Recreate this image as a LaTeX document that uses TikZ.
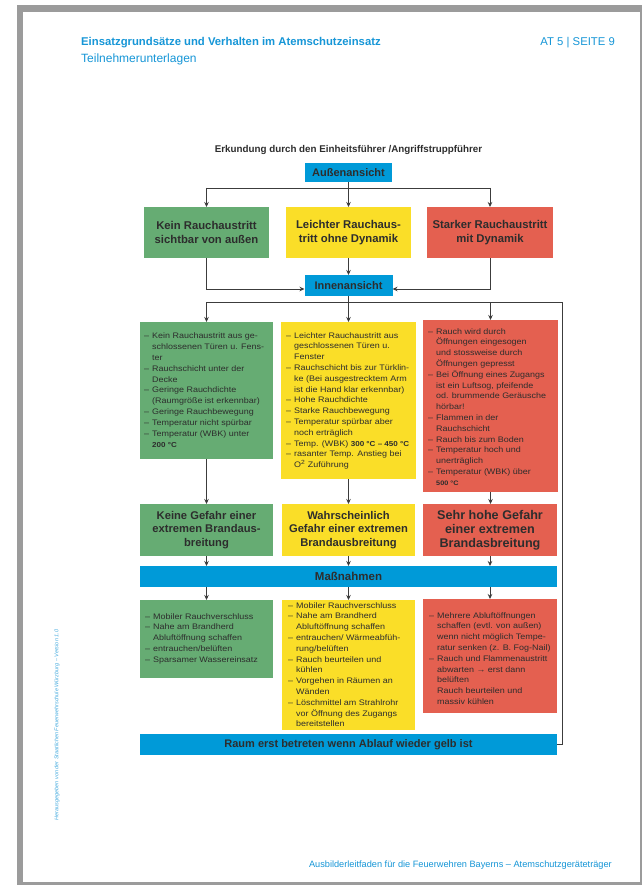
\documentclass[tikz,border=0pt]{standalone}
\usepackage{fontspec}
\setmainfont{Liberation Sans}
\newfontfamily\lstfont[FakeStretch=1.12]{Liberation Sans}
\usetikzlibrary{arrows.meta,calc}
\definecolor{hblue}{RGB}{22,150,215}
\definecolor{bbar}{RGB}{0,154,216}
\definecolor{bgreen}{RGB}{102,172,115}
\definecolor{byellow}{RGB}{250,222,40}
\definecolor{bred}{RGB}{228,96,80}
\definecolor{ink}{RGB}{45,45,45}
\definecolor{lnk}{RGB}{60,60,60}
\definecolor{framegray}{RGB}{155,155,155}
\newcommand\Di{\makebox[8pt][l]{–}}
\newcommand\In{\hspace*{8pt}}
\newcommand\Tb[1]{{\bfseries\fontsize{7.2}{10.8}\selectfont #1}}
\begin{document}
\begin{tikzpicture}[x=1pt,y=-1pt,
  bx/.style={draw=none,inner sep=0pt,outer sep=0pt,text=ink,align=center,
    font=\bfseries\fontsize{11.3}{14}\selectfont},
  bar/.style={bx,fill=bbar,font=\bfseries\fontsize{11}{13}\selectfont},
  gbox/.style={bx,fill=bgreen},
  ybox/.style={bx,fill=byellow},
  rbox/.style={bx,fill=bred},
  lst/.style={inner sep=0pt,anchor=north west,align=left,text=ink,
    font=\lstfont\fontsize{8}{10.8}\selectfont},
  hdr/.style={inner sep=0pt,text=hblue},
  conn/.style={draw=lnk,line width=0.8pt},
  arr/.style={conn,-{Stealth[length=5pt,width=4.5pt]}}
]
\useasboundingbox (0,0) rectangle (642,885);
% page frame
\fill[framegray] (17,5) rectangle (642,885);
\fill[white] (23,12) rectangle (640,882);

% header
\node[hdr,anchor=base west,font=\bfseries\fontsize{11.3}{13}\selectfont] (h1) at (81,46) {Einsatzgrundsätze und Verhalten im Atemschutzeinsatz};
\node[hdr,anchor=base west,font=\fontsize{12}{14}\selectfont] (h2) at (81,63) {Teilnehmerunterlagen};
\node[hdr,anchor=base east,font=\fontsize{11.3}{13}\selectfont] (h3) at (615,46) {AT 5 | SEITE 9};

% title
\node[inner sep=0pt,text=ink,font=\bfseries\fontsize{9.8}{12}\selectfont] (title) at (348.5,150) {Erkundung durch den Einheitsführer /Angriffstruppführer};

% row 1
\node[bar,minimum width=87pt,minimum height=19pt] (aus) at (348.5,172.5) {Außenansicht};
\node[gbox,minimum width=125pt,minimum height=51pt] (g1) at (206.5,232.5) {Kein Rauchaustritt\\sichtbar von außen};
\node[ybox,minimum width=125pt,minimum height=51pt] (y1) at (348.5,232.5) {Leichter Rauchaus-\\tritt ohne Dynamik};
\node[rbox,minimum width=126pt,minimum height=51pt] (r1) at (490,232.5) {Starker Rauchaustritt\\mit Dynamik};
\node[bar,minimum width=88pt,minimum height=21pt] (inn) at (348.5,285.5) {Innenansicht};

% row 2 (observations)
\node[gbox,minimum width=133pt,minimum height=137pt] (g2) at (206.5,390.5) {};
\node[ybox,minimum width=135pt,minimum height=157pt] (y2) at (348.5,400.5) {};
\node[rbox,minimum width=135pt,minimum height=172pt] (r2) at (490.5,406) {};

\node[lst] (g2t) at ($(g2.north west)+(4,11)$) {%
\Di Kein Rauchaustritt aus ge-\\
\In schlossenen Türen u. Fens-\\
\In ter\\
\Di Rauchschicht unter der\\
\In Decke\\
\Di Geringe Rauchdichte\\
\In (Raumgröße ist erkennbar)\\
\Di Geringe Rauchbewegung\\
\Di Temperatur nicht spürbar\\
\Di Temperatur (WBK) unter\\
\In \Tb{200 °C}};

\node[lst] (y2t) at ($(y2.north west)+(5,10)$) {%
\Di Leichter Rauchaustritt aus\\
\In geschlossenen Türen u.\\
\In Fenster\\
\Di Rauchschicht bis zur Türklin-\\
\In ke (Bei ausgestrecktem Arm\\
\In ist die Hand klar erkennbar)\\
\Di Hohe Rauchdichte\\
\Di Starke Rauchbewegung\\
\Di Temperatur spürbar aber\\
\In noch erträglich\\
\Di Temp. (WBK) \Tb{300 °C – 450 °C}\\
\Di rasanter Temp. Anstieg bei\\
\In O\textsuperscript{2} Zuführung};

\node[lst] (r2t) at ($(r2.north west)+(5,8)$) {%
\Di Rauch wird durch\\
\In Öffnungen eingesogen\\
\In und stossweise durch\\
\In Öffnungen gepresst\\
\Di Bei Öffnung eines Zugangs\\
\In ist ein Luftsog, pfeifende\\
\In od. brummende Geräusche\\
\In hörbar!\\
\Di Flammen in der\\
\In Rauchschicht\\
\Di Rauch bis zum Boden\\
\Di Temperatur hoch und\\
\In unerträglich\\
\Di Temperatur (WBK) über\\
\In {\bfseries\fontsize{6.5}{10.8}\selectfont 500 °C}};

% row 3 (assessment)
\node[gbox,minimum width=133pt,minimum height=52pt,font=\bfseries\fontsize{11.2}{13.8}\selectfont] (g3) at (206.5,530) {Keine Gefahr einer\\extremen Brandaus-\\breitung};
\node[ybox,minimum width=133pt,minimum height=52pt,font=\bfseries\fontsize{11.2}{13.8}\selectfont] (y3) at (348.5,530) {Wahrscheinlich\\Gefahr einer extremen\\Brandausbreitung};
\node[rbox,minimum width=134pt,minimum height=52pt,font=\bfseries\fontsize{12.6}{13.8}\selectfont] (r3) at (490,530) {Sehr hohe Gefahr\\einer extremen\\Brandasbreitung};

\node[bar,minimum width=417pt,minimum height=21pt,font=\bfseries\fontsize{11.5}{13}\selectfont] (mass) at (348.5,576.5) {Maßnahmen};

% row 4 (measures)
\node[gbox,minimum width=133pt,minimum height=78pt] (g4) at (206.5,639) {};
\node[ybox,minimum width=133pt,minimum height=130pt] (y4) at (348.5,665) {};
\node[rbox,minimum width=134pt,minimum height=114pt] (r4) at (490,656) {};

\node[lst] (g4t) at ($(g4.north west)+(5,13)$) {%
\Di Mobiler Rauchverschluss\\
\Di Nahe am Brandherd\\
\In Abluftöffnung schaffen\\
\Di entrauchen/belüften\\
\Di Sparsamer Wassereinsatz};

\node[lst] (y4t) at ($(y4.north west)+(6,2)$) {%
\Di Mobiler Rauchverschluss\\
\Di Nahe am Brandherd\\
\In Abluftöffnung schaffen\\
\Di entrauchen/ Wärmeabfüh-\\
\In rung/belüften\\
\Di Rauch beurteilen und\\
\In kühlen\\
\Di Vorgehen in Räumen an\\
\In Wänden\\
\Di Löschmittel am Strahlrohr\\
\In vor Öffnung des Zugangs\\
\In bereitstellen};

\node[lst] (r4t) at ($(r4.north west)+(6,13)$) {%
\Di Mehrere Abluftöffnungen\\
\In schaffen (evtl. von außen)\\
\In wenn nicht möglich Tempe-\\
\In ratur senken (z. B. Fog-Nail)\\
\Di Rauch und Flammenaustritt\\
\In abwarten → erst dann\\
\In belüften\\
\In Rauch beurteilen und\\
\In massiv kühlen};

\node[bar,minimum width=417pt,minimum height=21pt] (raum) at (348.5,744.5) {Raum erst betreten wenn Ablauf wieder gelb ist};

% connectors: top
\coordinate (tl) at (206.5,188);
\coordinate (tr) at (490,188);
\draw[conn] (aus.south) -- (aus.south |- tl);
\draw[conn] (tl) -- (tr);
\draw[arr] (tl) -- (g1.north);
\draw[arr] (aus.south |- tl) -- (y1.north);
\draw[arr] (tr) -- (r1.north);
\draw[arr] (g1.south) |- ([yshift=-3.5pt]inn.west);
\draw[arr] (r1.south) |- ([yshift=-3.5pt]inn.east);
\draw[arr] (y1.south) -- (inn.north);

% distribution line
\coordinate (dl) at (206.5,302);
\coordinate (dr) at (562,302);
\coordinate (lp) at (562,744.5);
\draw[conn] (inn.south) -- (inn.south |- dl);
\draw[conn] (dl) -- (dr);
\draw[arr] (dl) -- (g2.north);
\draw[arr] (inn.south |- dl) -- (y2.north);
\draw[arr] (r2.north |- dl) -- (r2.north);

% down to assessment
\draw[arr] (g2.south) -- (g3.north);
\draw[arr] (y2.south) -- (y3.north);
\draw[arr] (r2.south) -- (r2.south |- r3.north);
\draw[arr] (g3.south) -- (g3.south |- mass.north);
\draw[arr] (y3.south) -- (y3.south |- mass.north);
\draw[arr] (r3.south) -- (r3.south |- mass.north);
\draw[arr] (g4.north |- mass.south) -- (g4.north);
\draw[arr] (y4.north |- mass.south) -- (y4.north);
\draw[arr] (r4.north |- mass.south) -- (r4.north);

% feedback loop
\draw[conn] (raum.east) -- (lp) -- (dr);

% side text and footer
\node[inner sep=0pt,rotate=90,text=hblue!80,font=\itshape\fontsize{5.5}{6}\selectfont] (side) at (57,725) {Herausgegeben von der Staatlichen Feuerwehrschule Würzburg – Version 1.0};
\node[hdr,anchor=base east,font=\fontsize{9.2}{11}\selectfont] (foot) at (612,867) {Ausbilderleitfaden für die Feuerwehren Bayerns – Atemschutzgeräteträger};
\end{tikzpicture}
\end{document}
